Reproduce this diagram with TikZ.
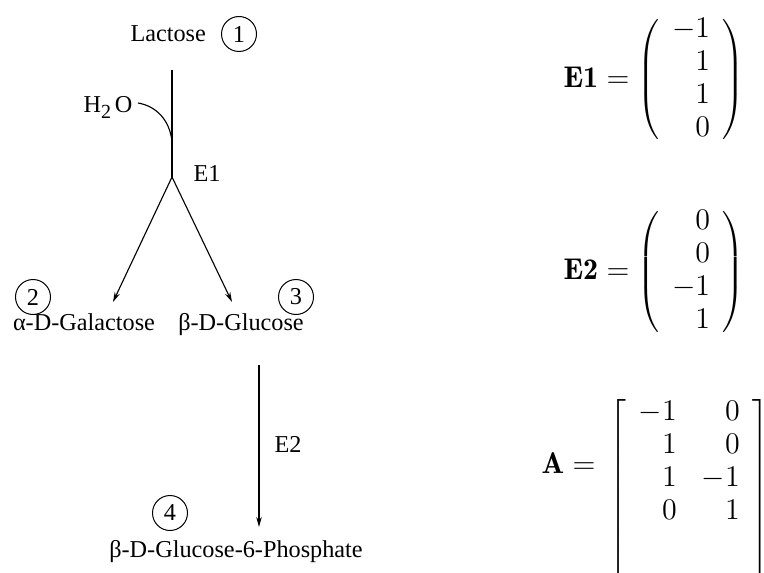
\documentclass[tikz,border=0pt]{standalone}
\usepackage{fontspec}
\newfontfamily\tms{Liberation Serif}
\usetikzlibrary{arrows.meta}
\begin{document}
\begin{tikzpicture}[x=0.4pt,y=-0.4pt,
  lbl/.style={font=\tms\fontsize{9.7}{11}\selectfont, inner sep=0},
  num/.style={draw, circle, minimum size=14pt, inner sep=0, line width=0.4pt, font=\tms\fontsize{9.7}{11}\selectfont},
  conn/.style={line width=0.45pt},
  arr/.style={conn, -{Stealth[length=4pt,width=2.2pt]}},
  eq/.style={inner sep=0, font=\fontsize{12}{13.2}\selectfont}]
\useasboundingbox (0,0) rectangle (764,572);

% --- reaction scheme ---
\node[lbl, anchor=base west] (lac) at (130,42) {Lactose};
\node[num] (n1) at (239,34) {1};
\coordinate (top) at (172,70);
\coordinate (br) at (172,177);
\node[lbl, anchor=base west] (h2o) at (83,113) {H\raisebox{-2.2pt}{\fontsize{8}{9}\selectfont 2}\kern1.5pt O};
\coordinate (h2ostart) at (138,103);
\coordinate (join) at (172,142);
\draw[conn] (top) -- (br);
\draw[conn] (h2ostart) .. controls (156,106) and (170,120) .. (join);
\node[lbl, anchor=base west] (e1) at (193,182) {E1};
\coordinate (tipL) at (113,302);
\coordinate (tipR) at (232,302);
\draw[arr] (br) -- (tipL);
\draw[arr] (br) -- (tipR);
\node[num] (n2) at (33,297) {2};
\node[num] (n3) at (296,297) {3};
\node[lbl, anchor=base] (gal) at (84,330) {α-D-Galactose};
\node[lbl, anchor=base] (glu) at (241,330) {β-D-Glucose};
\coordinate (e2s) at (259,365);
\coordinate (e2e) at (259,527);
\draw[arr] (e2s) -- (e2e);
\node[lbl, anchor=base west] (e2) at (274,452) {E2};
\node[num] (n4) at (170,513) {4};
\node[lbl, anchor=base] (g6p) at (236,557) {β-D-Glucose-6-Phosphate};

% --- stoichiometric vectors ---
\node[eq] (vE1) at (654,80) {$\mathbf{E1} = \left(\begin{array}{r} -1\\ 1\\ 1\\ 0\end{array}\right)$};
\node[eq] (vE2) at (654,272) {$\mathbf{E2} = \left(\begin{array}{r} 0\\ 0\\ -1\\ 1\end{array}\right)$};
\node[eq, anchor=east] (Alb) at (596,463) {$\mathbf{A} =$};
\node[eq, anchor=north west] (Amat) at (609,397) {$\setlength{\arraycolsep}{5pt}\left[\begin{array}{rr} -1 & 0\\ 1 & 0\\ 1 & -1\\ 0 & 1\\ & \\ & \end{array}\right]$};
\end{tikzpicture}
\end{document}
